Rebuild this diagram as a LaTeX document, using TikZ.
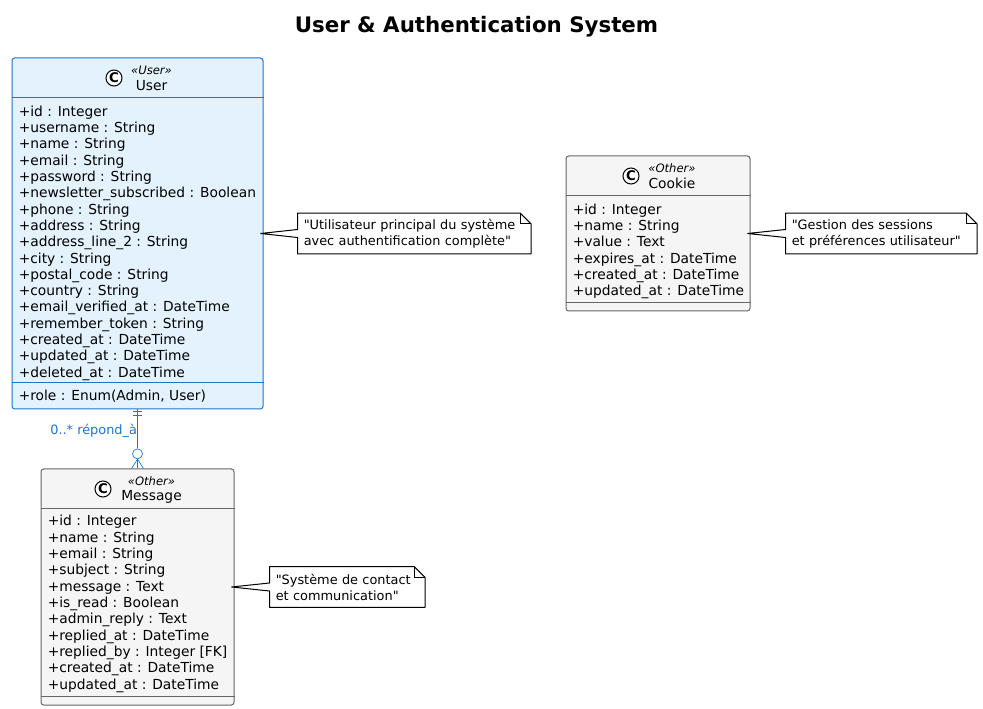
\documentclass[tikz,border=0pt]{standalone}
\usepackage{fontspec}
\setmainfont{DejaVu Sans}[Ligatures=TeXOff]
\usetikzlibrary{positioning}

\definecolor{userblue}{HTML}{1976D2}
\definecolor{userfill}{HTML}{E3F2FD}
\definecolor{othergray}{HTML}{666666}
\definecolor{otherfill}{HTML}{F5F5F5}

\tikzset{
  classbox/.style={draw=othergray, fill=otherfill, line width=0.75pt, rounded corners=2pt, minimum width=#1, inner sep=0pt},
  classicon/.style={circle, draw=black, fill=white, line width=0.75pt, minimum size=12pt, inner sep=0pt, font=\fontsize{10pt}{11pt}\selectfont\bfseries},
  stereotext/.style={inner sep=0pt, font=\fontsize{8.7pt}{10pt}\selectfont\itshape},
  nametext/.style={inner sep=0pt, font=\fontsize{10.35pt}{12pt}\selectfont},
  rowtext/.style={anchor=base west, inner sep=0pt, font=\fontsize{10.35pt}{12pt}\selectfont},
  notebox/.style={align=left, text width=#1, inner xsep=4.5pt, inner ysep=0pt, minimum height=30pt, font=\fontsize{9.67pt}{12pt}\selectfont},
  noteedge/.style={draw=black, fill=white, line width=0.75pt, line join=bevel},
  relline/.style={draw=userblue, line width=0.75pt},
}

% name of the class, y of its first row, then its rows
\newcommand{\classrows}[3]{%
  \foreach [count=\i] \row in {#3} {
    \node[rowtext] (#1-\i) at ([shift={(7,#2+16.3*\i)}]#1.north west) {\row};
  }
}
% note outline with its wedge towards the class
\newcommand{\notewedge}[2]{%
  \draw[noteedge] ([yshift=3pt]#1.west) -- (#1.north west) -- ([xshift=-8pt]#1.north east)
    -- ([yshift=-8pt]#1.north east) -- (#1.south east) -- (#1.south west)
    -- ([yshift=-3pt]#1.west) -- ([xshift=-2.25pt]#2.east) -- cycle;
  \draw[line width=0.75pt] ([xshift=-8pt]#1.north east) -- ([xshift=-8pt,yshift=-8pt]#1.north east)
    -- ([yshift=-8pt]#1.north east);
}

\begin{document}
\begin{tikzpicture}[x=0.75pt, y=-0.75pt]
    \useasboundingbox (0,0) rectangle (983,709);

    \node[font=\fontsize{16pt}{20pt}\selectfont\bfseries] (title) at (476.5,27) {User \& Authentication System};

    % Classes
    \node[classbox=188.25pt, draw=userblue, fill=userfill, minimum height=263.25pt] (user) at (137.5,233.5) {};
    \node[classbox=144.75pt, minimum height=177pt, below=44.25pt of user] (message) {};
    \node[classbox=138pt, minimum height=116.25pt] (cookie) at (658,233.5) {};

    % Compartment lines
    \draw[userblue, line width=0.75pt] ([yshift=-30pt]user.north west) -- ([yshift=-30pt]user.north east);
    \draw[userblue, line width=0.75pt] ([yshift=20.25pt]user.south west) -- ([yshift=20.25pt]user.south east);
    \foreach \c in {message, cookie} {
      \draw[othergray, line width=0.75pt] ([yshift=-30pt]\c.north west) -- ([yshift=-30pt]\c.north east);
      \draw[othergray, line width=0.75pt] ([yshift=6.75pt]\c.south west) -- ([yshift=6.75pt]\c.south east);
    }

    % Headers
    \foreach \c/\s/\t/\ic in {user/User/User/-23.5, message/Other/Message/-34.5, cookie/Other/Cookie/-27} {
      \node[classicon] (\c-icon) at ([shift={(\ic,20.5)}]\c.north) {C};
      \node[stereotext] (\c-stereo) at ([shift={(14,12.5)}]\c.north) {«\s»};
      \node[nametext] (\c-name) at ([shift={(14,28)}]\c.north) {\t};
    }

    % Rows
    \classrows{user}{42.6}{+id : Integer, +username : String, +name : String, +email : String, +password : String,
      +newsletter\_subscribed : Boolean, +phone : String, +address : String, +address\_line\_2 : String,
      +city : String, +postal\_code : String, +country : String, +email\_verified\_at : DateTime,
      +remember\_token : String, +created\_at : DateTime, +updated\_at : DateTime, +deleted\_at : DateTime}
    \node[rowtext] (user-role) at ([shift={(7,343)}]user.north west) {+role : Enum(Admin, User)};
    \classrows{message}{41.2}{+id : Integer, +name : String, +email : String, +subject : String, +message : Text,
      +is\_read : Boolean, +admin\_reply : Text, +replied\_at : DateTime, +replied\_by : Integer [FK],
      +created\_at : DateTime, +updated\_at : DateTime}
    \classrows{cookie}{42.4}{+id : Integer, +name : String, +value : Text, +expires\_at : DateTime,
      +created\_at : DateTime, +updated\_at : DateTime}

    % Notes
    \node[notebox=165.75pt, right=25.5pt of user] (noteuser) {};
    \node[notebox=134.25pt, right=26.25pt of cookie] (notecookie) {};
    \node[notebox=107.25pt, right=26.25pt of message] (notemessage) {};
    \notewedge{noteuser}{user}
    \notewedge{notecookie}{cookie}
    \notewedge{notemessage}{message}
    \node[notebox=165.75pt] (noteusertext) at (noteuser) {"Utilisateur principal du système\\avec authentification complète"};
    \node[notebox=134.25pt] (notecookietext) at (notecookie) {"Gestion des sessions\\et préférences utilisateur"};
    \node[notebox=107.25pt] (notemessagetext) at (notemessage) {"Système de contact\\et communication"};

    % Relation
    \node[circle, draw=userblue, line width=0.5pt, minimum size=7.5pt, inner sep=0pt, above=7pt of message.north] (zeroring) {};
    \draw[relline] (user.south) -- node[pos=0.55, left, inner sep=0pt, text=userblue, font=\fontsize{9.67pt}{12pt}\selectfont] (rellabel) {0..* répond\_à} (zeroring);
    \draw[relline] ([xshift=-3.4pt,yshift=-1.5pt]user.south) -- ([xshift=3.4pt,yshift=-1.5pt]user.south);
    \draw[relline] ([xshift=-3.4pt,yshift=-4.5pt]user.south) -- ([xshift=3.4pt,yshift=-4.5pt]user.south);
    \draw[draw=userblue, line width=0.5pt] ([xshift=-4.5pt]message.north) -- (zeroring.south) -- ([xshift=4.5pt]message.north);
    \draw[draw=userblue, line width=0.5pt] (zeroring.south) -- (message.north);
\end{tikzpicture}
\end{document}
